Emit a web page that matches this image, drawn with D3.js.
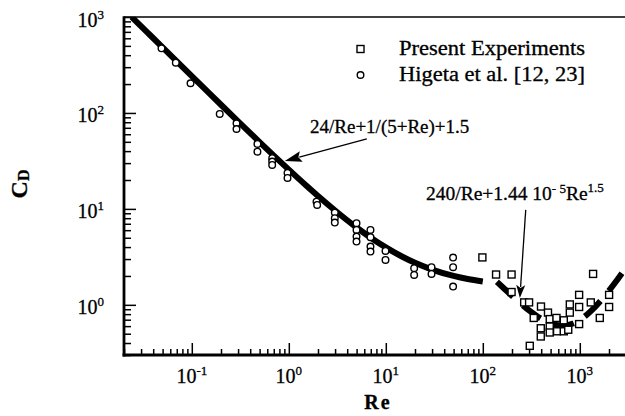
<!DOCTYPE html>
<html><head><meta charset="utf-8">
<script src="https://cdn.jsdelivr.net/npm/d3@7"></script>
<style>
body{margin:0;background:#fff}
svg{display:block}
text{font-family:"Liberation Serif","Times New Roman",serif;fill:#000;stroke:#000;stroke-width:0.3}
</style>
</head><body>
<svg id="c" width="625" height="416"></svg>
<script>
// ---- data ----
const higetaRe = [0.0487,0.0684,0.097,0.194,0.289,0.289,0.475,0.475,0.674,0.674,0.674,0.97,0.97,1.93,1.96,2.98,2.98,2.98,4.99,4.99,4.99,4.99,6.95,6.95,6.95,6.95,9.93,9.93,19.6,19.6,29.6,29.6,49.4,49.4,49.4];
const higetaCd = [472,334,204,97.7,78,68,47.6,39.5,33.8,31.1,28.7,23.7,21,11.9,11.0,9.15,8.0,7.2,7.1,6.04,5.15,4.56,6.04,5.07,4.05,3.59,3.65,2.94,2.41,2.05,2.47,2.10,3.11,2.47,1.55];
const presentRe = [99,137,198,198,267,300,305,335,398,396,396,470,490,490,490,575,583,684,684,760,789,789,984,984,984,1298,1371,1607,2005,2005];
const presentCd = [3.12,2.07,2.07,1.36,1.06,1.06,0.374,0.73,0.96,0.57,0.468,0.83,0.71,0.594,0.515,0.73,0.53,0.69,0.53,0.55,1.01,0.83,1.27,0.95,0.63,1.06,2.10,0.73,1.27,0.95];
const fit1Re = [0.024,0.035,0.05,0.07,0.1,0.15,0.2,0.3,0.5,0.7,1,1.5,2,3,5,7,10,15,20,30,50,70,100];
const fit1Cd = [1001.7,687.4,481.7,344.6,241.7,161.7,121.7,81.7,49.7,35.96,25.67,17.65,13.64,9.63,6.40,5.01,3.97,3.15,2.74,2.33,2.0,1.856,1.75];
const fit2Re = [140,170,200,250,300,400,500,600,700,850,1000,1300,1600,2000,2500,3000,4000];
const fit2Cd = [1.738,1.444,1.24,1.017,0.875,0.715,0.641,0.612,0.610,0.639,0.695,0.860,1.072,1.408,1.896,2.446,3.70];
const xMajorTicks = [0.1,1,10,100,1000];
const xTickExp = ["-1","0","1","2","3"];
const yMajorTicks = [1,10,100,1000];
const yTickExp = ["0","1","2","3"];
const legendLabels = ["Present Experiments","Higeta et al. [12, 23]"];
const fit1Label = "24/Re+1/(5+Re)+1.5";
// arrows in data coordinates: [tailRe, tailCd, tipRe, tipCd]
const arrow1 = [6.37,53.6,0.91,31.6];
const arrow2 = [277,9.77,241,1.18];

// ---- scales ----
const svg = d3.select("#c");
const L = 124, T = 17, B = 355, DEC = 97;
const xDom = [0.02, 10000];
const x = d3.scaleLog().domain(xDom).range([L, L + DEC*Math.log10(xDom[1]/xDom[0])]);
const y = d3.scaleLog().domain([0.3,1000]).range([B, T]);

function minors(lo, hi){
  const out=[];
  for(let e=Math.floor(Math.log10(lo)); e<=Math.ceil(Math.log10(hi)); e++){
    for(let k=2;k<=9;k++){const v=k*Math.pow(10,e); if(v>=lo*0.999 && v<=hi*1.001) out.push(v);}
  }
  return out;
}

svg.append("defs").append("clipPath").attr("id","plot")
  .append("rect").attr("x",L).attr("y",T).attr("width",700).attr("height",B-T);

// ---- axes ticks ----
function styleAxis(g){ g.select(".domain").remove(); g.selectAll("line").attr("stroke","#000").attr("stroke-width",1.5); }
svg.append("g").attr("transform",`translate(0,${B})`)
  .call(d3.axisBottom(x).tickValues(minors(xDom[0],xDom[1])).tickSize(-6).tickSizeOuter(0).tickFormat(""))
  .call(styleAxis);
svg.append("g").attr("transform",`translate(0,${B})`)
  .call(d3.axisBottom(x).tickValues(xMajorTicks.concat([10000])).tickSize(-12).tickSizeOuter(0).tickFormat(""))
  .call(styleAxis);
svg.append("g").attr("transform",`translate(${L},0)`)
  .call(d3.axisLeft(y).tickValues(minors(0.3,1000)).tickSize(-7).tickSizeOuter(0).tickFormat(""))
  .call(styleAxis);
svg.append("g").attr("transform",`translate(${L},0)`)
  .call(d3.axisLeft(y).tickValues(yMajorTicks).tickSize(-12).tickSizeOuter(0).tickFormat(""))
  .call(styleAxis);

// frame
svg.append("line").attr("x1",L).attr("x2",625).attr("y1",T).attr("y2",T).attr("stroke","#000").attr("stroke-width",1.5);
svg.append("line").attr("x1",L).attr("x2",L).attr("y1",T-0.7).attr("y2",B+1.4).attr("stroke","#000").attr("stroke-width",2.8);
svg.append("line").attr("x1",L-1.4).attr("x2",625).attr("y1",B).attr("y2",B).attr("stroke","#000").attr("stroke-width",2.8);

// tick labels
xMajorTicks.forEach((v,i)=>{
  const t = svg.append("text").attr("x",x(v)).attr("y",383).attr("text-anchor","middle").attr("font-size",20);
  t.append("tspan").text("10");
  t.append("tspan").attr("dy",-8).attr("font-size",13).text(xTickExp[i]);
});
yMajorTicks.forEach((v,i)=>{
  const t = svg.append("text").attr("x",104).attr("y",y(v)+9.5).attr("text-anchor","end").attr("font-size",20);
  t.append("tspan").text("10");
  t.append("tspan").attr("dy",-8).attr("font-size",13).text(yTickExp[i]);
});

// axis titles
svg.append("text").attr("x",378).attr("y",409).attr("text-anchor","middle")
  .attr("font-size",20).attr("font-weight","bold").attr("letter-spacing",2).text("Re");
const yt = svg.append("text").attr("transform","translate(27,184) rotate(-90)").attr("text-anchor","middle")
  .attr("font-size",24).attr("font-weight","bold");
yt.append("tspan").text("C");
yt.append("tspan").attr("font-size",16).attr("dy",2).text("D");

// ---- curves ----
const plot = svg.append("g").attr("clip-path","url(#plot)");
const line = d3.line().x(d=>x(d[0])).y(d=>y(d[1])).curve(d3.curveMonotoneX);
plot.append("path").datum(fit1Re.map((r,i)=>[r,fit1Cd[i]])).attr("d",line)
  .attr("fill","none").attr("stroke","#000").attr("stroke-width",6);
plot.append("path").datum(fit2Re.map((r,i)=>[r,fit2Cd[i]])).attr("d",line)
  .attr("fill","none").attr("stroke","#000").attr("stroke-width",6).attr("stroke-dasharray","22,13");

// ---- markers ----
plot.selectAll("circle.h").data(higetaRe.map((r,i)=>[r,higetaCd[i]])).enter().append("circle")
  .attr("cx",d=>x(d[0])).attr("cy",d=>y(d[1])).attr("r",3.3)
  .attr("fill","#fff").attr("stroke","#000").attr("stroke-width",1.4);
plot.selectAll("rect.p").data(presentRe.map((r,i)=>[r,presentCd[i]])).enter().append("rect")
  .attr("x",d=>x(d[0])-3.5).attr("y",d=>y(d[1])-3.5).attr("width",7).attr("height",7)
  .attr("fill","#fff").attr("stroke","#000").attr("stroke-width",1.4);

// ---- annotations ----
function arrow(a, len, wid){
  const x1=x(a[0]), y1=y(a[1]), x2=x(a[2]), y2=y(a[3]);
  const dx=x2-x1, dy=y2-y1, d=Math.hypot(dx,dy), ux=dx/d, uy=dy/d;
  const bx=x2-ux*len, by=y2-uy*len;
  svg.append("line").attr("x1",x1).attr("y1",y1).attr("x2",bx+ux*2).attr("y2",by+uy*2)
    .attr("stroke","#000").attr("stroke-width",1.3);
  svg.append("polygon").attr("points",[[x2,y2],[bx-uy*wid/2,by+ux*wid/2],[bx+ux*3,by+uy*3],[bx+uy*wid/2,by-ux*wid/2]].map(p=>p.join(",")).join(" "))
    .attr("fill","#000");
}
arrow(arrow1,17,11);
arrow(arrow2,13,9);
svg.append("text").attr("x",310).attr("y",132.5).attr("font-size",19).text(fit1Label);
const a2 = svg.append("text").attr("x",426).attr("y",200).attr("font-size",19.5);
a2.append("tspan").text("240/Re+1.44 10");
a2.append("tspan").attr("dy",-7).attr("font-size",13).text("- 5");
a2.append("tspan").attr("dy",7).attr("font-size",19.5).text("Re");
a2.append("tspan").attr("dy",-8).attr("font-size",13).text("1.5");

// ---- legend ----
svg.append("rect").attr("x",357).attr("y",45.5).attr("width",7).attr("height",7)
  .attr("fill","#fff").attr("stroke","#000").attr("stroke-width",1.4);
svg.append("circle").attr("cx",360.5).attr("cy",75).attr("r",3.3)
  .attr("fill","#fff").attr("stroke","#000").attr("stroke-width",1.4);
[55,81].forEach((yy,i)=>{
  svg.append("text").attr("x",399).attr("y",yy).attr("font-size",20)
    .attr("textLength",186).attr("lengthAdjust","spacingAndGlyphs").text(legendLabels[i]);
});
</script>
</body></html>
